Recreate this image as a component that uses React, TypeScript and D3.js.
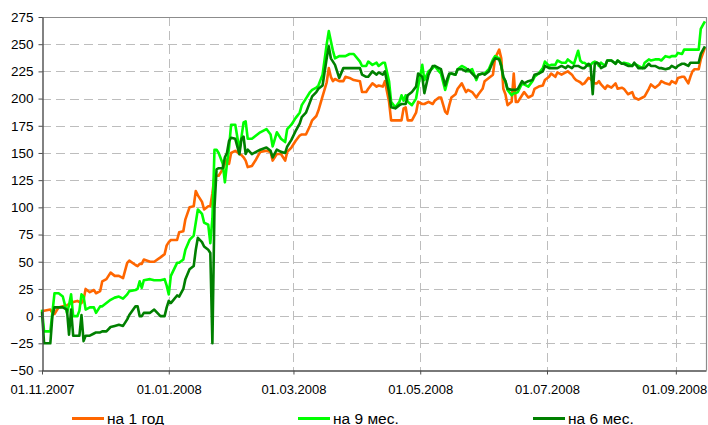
import React, { useRef, useEffect } from 'react'
import * as d3 from 'd3'

// daily points (dd.mm.yyyy)
const dates = [
    // Nov 2007
    "01.11.2007","02.11.2007","05.11.2007","06.11.2007","07.11.2007","09.11.2007","11.11.2007","13.11.2007","14.11.2007","15.11.2007","16.11.2007","18.11.2007","19.11.2007","20.11.2007","21.11.2007","22.11.2007","24.11.2007","26.11.2007","27.11.2007","29.11.2007","30.11.2007",
    // Dec 2007
    "02.12.2007","04.12.2007","06.12.2007","08.12.2007","10.12.2007","12.12.2007","13.12.2007","16.12.2007","17.12.2007","18.12.2007","19.12.2007","20.12.2007","23.12.2007","25.12.2007","28.12.2007","30.12.2007","31.12.2007",
    // Jan 2008
    "01.01.2008","02.01.2008","05.01.2008","06.01.2008","08.01.2008","09.01.2008","11.01.2008","13.01.2008","14.01.2008","15.01.2008","17.01.2008","18.01.2008","20.01.2008","21.01.2008","22.01.2008","23.01.2008","24.01.2008","25.01.2008","27.01.2008","28.01.2008","29.01.2008","30.01.2008","31.01.2008",
    // Feb 2008
    "02.02.2008","04.02.2008","05.02.2008","06.02.2008","07.02.2008","08.02.2008","10.02.2008","12.02.2008","14.02.2008","17.02.2008","19.02.2008","20.02.2008","22.02.2008","24.02.2008","26.02.2008","27.02.2008","29.02.2008",
    // Mar 2008
    "02.03.2008","04.03.2008","05.03.2008","07.03.2008","09.03.2008","10.03.2008","12.03.2008","13.03.2008","15.03.2008","17.03.2008","18.03.2008","19.03.2008","20.03.2008","21.03.2008","23.03.2008","25.03.2008","26.03.2008","28.03.2008","30.03.2008",
    // Apr 2008
    "02.04.2008","03.04.2008","05.04.2008","06.04.2008","08.04.2008","10.04.2008","11.04.2008","13.04.2008","14.04.2008","16.04.2008","17.04.2008","19.04.2008","21.04.2008","22.04.2008","23.04.2008","24.04.2008","25.04.2008","27.04.2008","29.04.2008","30.04.2008",
    // May 2008
    "02.05.2008","03.05.2008","05.05.2008","07.05.2008","08.05.2008","10.05.2008","11.05.2008","13.05.2008","14.05.2008","15.05.2008","16.05.2008","18.05.2008","19.05.2008","21.05.2008","23.05.2008","24.05.2008","26.05.2008","28.05.2008","29.05.2008","31.05.2008",
    // Jun 2008
    "01.06.2008","03.06.2008","05.06.2008","06.06.2008","08.06.2008","09.06.2008","10.06.2008","11.06.2008","12.06.2008","14.06.2008","15.06.2008","16.06.2008","17.06.2008","19.06.2008","20.06.2008","22.06.2008","24.06.2008","25.06.2008","27.06.2008","29.06.2008","30.06.2008",
    // Jul 2008
    "02.07.2008","03.07.2008","05.07.2008","06.07.2008","08.07.2008","10.07.2008","11.07.2008","13.07.2008","14.07.2008","15.07.2008","16.07.2008","17.07.2008","18.07.2008","19.07.2008","21.07.2008","22.07.2008","23.07.2008","24.07.2008","25.07.2008","26.07.2008","27.07.2008","29.07.2008","30.07.2008",
    // Aug 2008
    "01.08.2008","03.08.2008","04.08.2008","06.08.2008","07.08.2008","09.08.2008","11.08.2008","12.08.2008","14.08.2008","16.08.2008","17.08.2008","19.08.2008","20.08.2008","22.08.2008","24.08.2008","25.08.2008","27.08.2008","29.08.2008","30.08.2008",
    // Sep 2008
    "01.09.2008","02.09.2008","04.09.2008","05.09.2008","07.09.2008","08.09.2008","09.09.2008","10.09.2008","12.09.2008","13.09.2008","15.09.2008",
]

const oneYear = [
    4,5,6,3,2,8,9,10,11,12,13,14,13,12,15,25,22,24,21,23,32,
    34,40,37,37,35,49,51,47,46,48,48,52,50,50,54,57,65,
    68,70,70,77,78,89,100,101,115,111,105,98,101,101,113,129,129,129,135,140,144,140,150,
    152,149,148,146,143,137,138,144,151,152,151,143,149,149,143,151,155,
    161,166,167,167,175,180,184,189,202,215,228,220,216,218,216,216,220,219,217,
    216,206,206,209,214,211,212,211,216,197,180,180,180,180,191,192,180,180,187,197,
    195,195,197,195,198,201,201,188,186,194,201,204,209,214,206,208,206,201,204,209,
    216,219,222,237,245,237,209,204,194,197,223,197,197,203,206,201,203,209,211,212,217,
    220,223,220,224,222,224,225,222,219,217,216,215,213,214,219,218,216,214,214,216,213,209,212,
    210,214,209,210,209,204,206,201,199,201,202,209,213,210,213,216,214,213,216,
    214,219,220,220,214,220,225,227,227,236,247,
]

const nineMonths = [
    6,-14,-14,3,21,21,18,3,10,20,0,0,5,20,18,6,8,8,3,9,9,
    12,15,17,18,16,20,23,24,25,32,26,33,34,33,33,34,28,
    20,37,49,49,52,61,70,74,86,98,94,86,84,67,90,153,153,150,140,123,140,155,176,
    176,153,165,178,179,163,163,166,169,172,167,156,169,163,160,172,176,
    182,187,194,200,206,208,210,212,222,250,262,253,244,237,239,239,239,241,241,
    234,230,230,234,231,233,230,233,233,216,197,192,197,203,198,203,197,194,200,211,
    231,217,225,228,230,225,223,208,215,222,223,222,227,230,228,225,227,217,222,223,
    223,227,236,239,237,230,219,216,208,203,205,205,206,214,213,211,216,220,223,228,234,
    230,231,231,235,233,233,236,233,232,238,244,235,233,233,230,231,233,234,233,230,233,230,235,
    235,232,235,232,233,232,230,232,230,228,233,236,235,236,236,235,239,238,239,
    239,242,241,245,245,245,245,245,245,264,271,
]

const sixMonths = [
    4,-25,-25,0,8,8,8,6,-17,6,-18,-18,-18,1,-23,-18,-18,-16,-15,-15,-14,
    -14,-10,-9,-8,-9,-3,1,9,9,0,0,3,3,6,0,0,8,
    14,12,19,18,25,34,43,46,61,72,68,64,61,58,-25,100,135,136,136,146,150,161,164,
    163,149,163,165,149,153,149,151,153,155,152,146,153,151,150,156,162,
    170,177,183,187,197,202,206,209,212,237,248,237,234,231,219,228,228,228,228,
    228,222,220,220,225,222,224,222,225,206,192,191,194,195,195,195,203,206,211,223,
    220,205,222,230,230,228,227,212,218,223,223,222,227,227,225,227,223,219,222,223,
    222,225,234,237,236,230,220,216,209,208,208,208,209,216,214,216,217,222,223,225,230,
    228,228,228,228,230,228,230,228,230,230,230,229,228,228,232,230,204,232,233,232,228,230,235,
    235,232,235,232,232,230,230,233,228,228,228,232,230,230,228,228,227,228,230,
    228,230,232,232,230,233,233,233,233,241,248,
]

const seriesNames = ["на 1 год", "на 9 мес.", "на 6 мес."]
const seriesColors = ["#FF6600", "#00FF00", "#008000"]
const yTicks = [-50, -25, 0, 25, 50, 75, 100, 125, 150, 175, 200, 225, 250, 275]
const xTicks = ["01.11.2007", "01.01.2008", "01.03.2008", "01.05.2008", "01.07.2008", "01.09.2008"]
const xEnd = "16.09.2008"

export default function App() {
    const svgRef = useRef(null)
    const width = 708
    const height = 425
    const margin = { top: 17, right: 2, bottom: 54.5, left: 42 }
    const plotRight = 706
    const font = "'Liberation Sans', Arial, sans-serif"

    useEffect(() => {
        draw()
    }, [])

    const draw = () => {
        const parse = d3.timeParse("%d.%m.%Y")
        const svg = d3.select(svgRef.current)
        svg.selectAll("*").remove()

        const x = d3.scaleTime()
            .domain([parse(xTicks[0]), parse(xEnd)])
            .range([margin.left, width - margin.right + 1])
        const y = d3.scaleLinear()
            .domain([yTicks[0], yTicks[yTicks.length - 1]])
            .range([height - margin.bottom, margin.top])

        const bottom = height - margin.bottom

        // gridlines
        const grid = svg.append("g")
            .attr("stroke", "#BDBDBD")
            .attr("stroke-width", 1)
            .attr("stroke-dasharray", "9,5")
        grid.selectAll("line.h")
            .data(yTicks.slice(1, -1))
            .join("line")
            .attr("class", "h")
            .attr("x1", margin.left)
            .attr("x2", plotRight)
            .attr("y1", d => Math.round(y(d)) + 0.5)
            .attr("y2", d => Math.round(y(d)) + 0.5)
        grid.selectAll("line.v")
            .data(xTicks.slice(1))
            .join("line")
            .attr("class", "v")
            .attr("x1", d => Math.round(x(parse(d))) + 0.5)
            .attr("x2", d => Math.round(x(parse(d))) + 0.5)
            .attr("y1", margin.top)
            .attr("y2", bottom)

        // frame (top / right)
        svg.append("path")
            .attr("d", `M${margin.left},${margin.top + 0.5}H${plotRight + 0.5}V${bottom}`)
            .attr("fill", "none")
            .attr("stroke", "#8C8C8C")
            .attr("stroke-width", 1.2)

        // series
        const line = d3.line()
            .x((d, i) => x(parse(dates[i])))
            .y(d => y(d))
        const allSeries = [oneYear, nineMonths, sixMonths]
        svg.append("g")
            .attr("fill", "none")
            .attr("stroke-width", 2.6)
            .attr("stroke-linejoin", "round")
            .selectAll("path")
            .data(allSeries)
            .join("path")
            .attr("stroke", (d, i) => seriesColors[i])
            .attr("d", d => line(d))

        // y axis
        const yAxis = svg.append("g")
            .attr("transform", `translate(${margin.left + 0.5},0)`)
            .call(d3.axisLeft(y).tickValues(yTicks).tickSize(4).tickPadding(5).tickSizeOuter(0))
        yAxis.select(".domain").attr("stroke", "#4D4D4D").attr("stroke-width", 1.4)
        yAxis.selectAll(".tick line").attr("stroke", "#4D4D4D")
        yAxis.selectAll(".tick text")
            .attr("fill", "#000")
            .style("font-family", font)
            .style("font-size", "13.5px")

        // x axis
        const xAxis = svg.append("g")
            .attr("transform", `translate(0,${bottom})`)
            .call(d3.axisBottom(x)
                .tickValues(xTicks.map(d => parse(d)))
                .tickFormat(d3.timeFormat("%d.%m.%Y"))
                .tickSize(4)
                .tickPadding(10)
                .tickSizeOuter(0))
        xAxis.select(".domain")
            .attr("d", `M${margin.left},0.5H${plotRight + 0.5}`)
            .attr("stroke", "#4D4D4D").attr("stroke-width", 1.4)
        xAxis.selectAll(".tick line").attr("stroke", "#4D4D4D")
        xAxis.selectAll(".tick text")
            .attr("fill", "#000")
            .style("font-family", font)
            .style("font-size", "13px")
        // keep the last date label inside the picture, as Excel does
        xAxis.selectAll(".tick:last-of-type text").attr("text-anchor", "end").attr("x", 31)

        // legend
        const legendX = [72, 298, 533]
        const legend = svg.append("g")
            .selectAll("g")
            .data(seriesNames)
            .join("g")
            .attr("transform", (d, i) => `translate(${legendX[i]},418.5)`)
        legend.append("line")
            .attr("x1", 0)
            .attr("x2", 32)
            .attr("stroke", (d, i) => seriesColors[i])
            .attr("stroke-width", 3)
        legend.append("text")
            .attr("x", 35)
            .attr("y", 5)
            .style("font-family", font)
            .style("font-size", "15.5px")
            .attr("fill", "#000")
            .text(d => d)
    }

    return (
        <svg
            ref={svgRef}
            width={width}
            height={height}
            style={{ position: 'absolute', left: 0, top: 0, background: '#fff' }}
        />
    )
}
